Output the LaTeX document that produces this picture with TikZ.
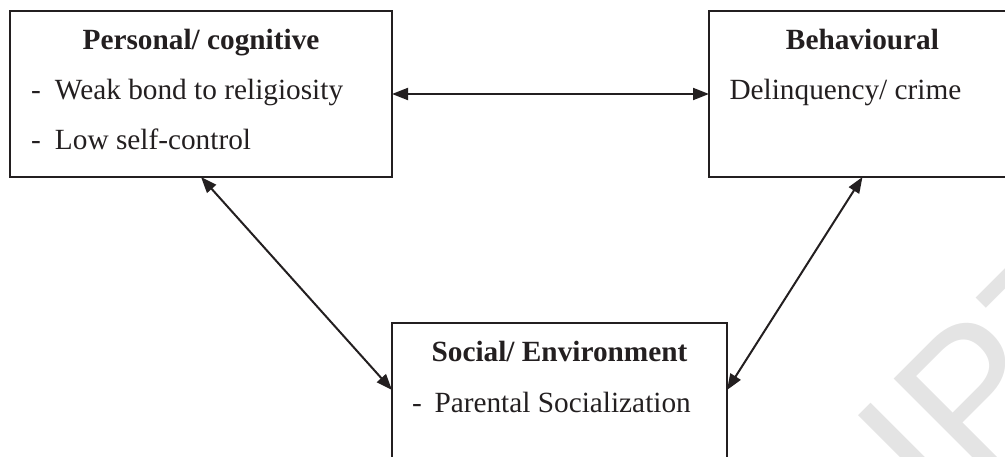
\documentclass[tikz,border=0pt]{standalone}
\usepackage{fontspec}
\setmainfont{Liberation Serif}
\setsansfont{Liberation Sans}
\usetikzlibrary{arrows.meta,calc}

\definecolor{ink}{RGB}{35,31,32}
\definecolor{wmark}{RGB}{228,228,228}

\begin{document}
\begin{tikzpicture}[x=1pt,y=-1pt,
  box/.style={draw=ink,line width=1.8pt,inner sep=0pt,outer sep=0pt},
  txt/.style={inner sep=0pt,outer sep=0pt,text=ink,
    font=\fontsize{29.3}{35}\selectfont},
  title/.style={txt,font=\fontsize{29.3}{35}\selectfont\bfseries},
  link/.style={draw=ink,line width=2pt,
    {Triangle[length=16pt,width=12pt]}-{Triangle[length=16pt,width=12pt]}}]
\useasboundingbox (0,0) rectangle (1005,457);

% faint watermark letters
\node[inner sep=0pt,outer sep=0pt,text=wmark,rotate=45,anchor=base west,
  font=\sffamily\fontsize{190}{190}\selectfont] (wm) at (938.4,520) {IPT};

% the three boxes (the right and the bottom one run past the page edge)
\node[box,minimum width=382pt,minimum height=166pt] (p) at (201,94) {};
\node[box,minimum width=307pt,minimum height=166pt] (b) at (862.5,94) {};
\node[box,minimum width=335pt,minimum height=180pt] (s) at (559.5,413) {};

% personal / cognitive
\node[title,anchor=base] (pt) at (201,50) {Personal/ cognitive};
\node[txt,anchor=base west] (p1) at (31.2,100)
  {\makebox[23.8pt][l]{-}Weak bond to religiosity};
\node[txt,anchor=base west] (p2) at (31.2,150)
  {\makebox[23.8pt][l]{-}Low self-control};

% behavioural
\node[title,anchor=base] (bt) at (862.5,50) {Behavioural};
\node[txt,anchor=base west] (b1) at (729.5,100) {Delinquency/ crime};

% social / environment
\node[title,anchor=base] (st) at (559.5,362) {Social/ Environment};
\node[txt,anchor=base west] (s1) at (412.2,412)
  {\makebox[22.3pt][l]{-}Parental Socialization};

% two-way links
\draw[link] (p) -- (b);
\draw[link] (p.south) -- ($(s.north west)+(0,67)$);
\draw[link] (b.south) -- ($(s.north east)+(0,67)$);
\end{tikzpicture}
\end{document}
